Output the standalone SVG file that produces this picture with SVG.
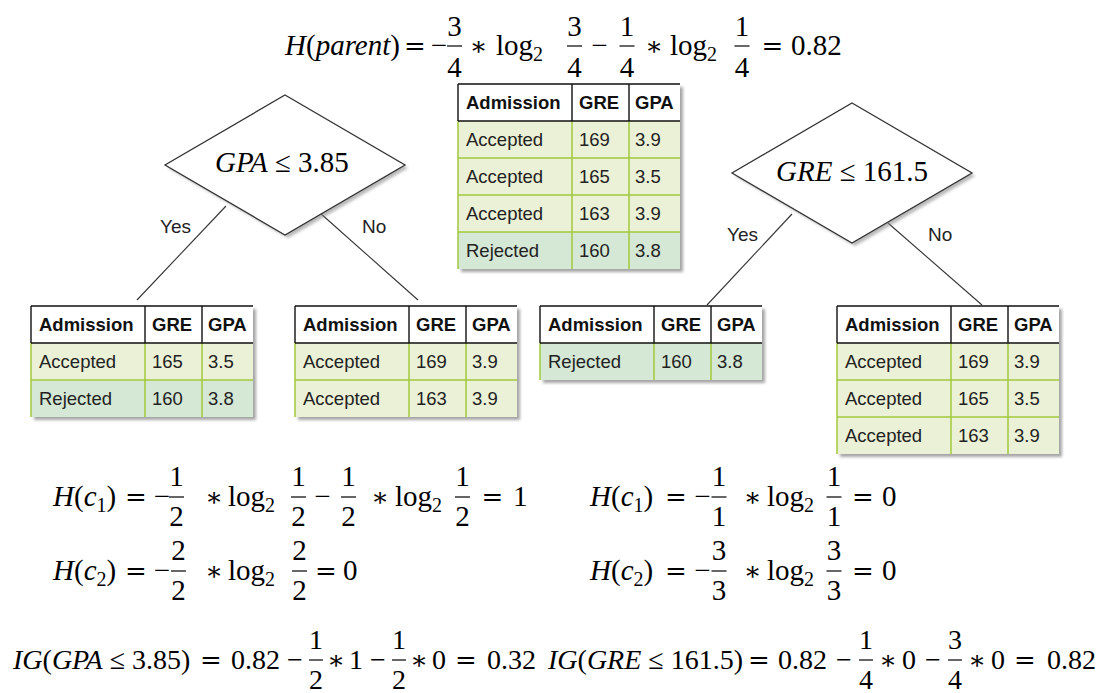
<svg xmlns="http://www.w3.org/2000/svg" width="1105" height="693" viewBox="0 0 1105 693">
<defs>
<filter id="blur" x="-10%" y="-10%" width="120%" height="120%"><feGaussianBlur stdDeviation="1.6"/></filter>
</defs>
<style>
.m{font-family:"Liberation Serif","Times New Roman",serif;font-size:29px;fill:#000}
.ig{font-size:28px}
.i{font-style:italic}
.op{font-family:"DejaVu Serif",serif;font-size:26px}
.sub{font-size:20px}
.c{text-anchor:middle}
.bar{stroke:#000;stroke-width:1.2}
.sh{fill:#777;opacity:.65;filter:url(#blur)}
.hdr{fill:#fff}
.acc{fill:#ebf1d6}
.rej{fill:#d5e8d5}
.gl{stroke:#a2c93c;stroke-width:1.5;fill:none}
.bl{stroke:#111;stroke-width:1.4;fill:none}
.th{font-family:"Liberation Sans",Arial,sans-serif;font-size:18.5px;font-weight:bold;fill:#111}
.td{font-family:"Liberation Sans",Arial,sans-serif;font-size:18.5px;fill:#222}
.lbl{font-family:"Liberation Sans",Arial,sans-serif;font-size:19px;fill:#222}
.dia{fill:#fff;stroke:#333;stroke-width:1.3}
.dsh{fill:#888;opacity:.6;filter:url(#blur)}
.conn{stroke:#333;stroke-width:1.1;fill:none}
</style>

<!-- top equation -->
<g id="eq-parent" class="m">
<text x="285" y="55"><tspan class="i">H</tspan>(<tspan class="i">parent</tspan>)</text>
<text class="op c" x="415" y="55">=</text>
<text class="c" x="439" y="55">−</text>
<text class="c" x="454.5" y="36">3</text><line class="bar" x1="447" y1="46" x2="462" y2="46"/><text class="c" x="454.5" y="77">4</text>
<text class="op c" x="478.5" y="55">∗</text>
<text x="496" y="55">log<tspan class="sub" dy="6">2</tspan></text>
<text class="c" x="574.5" y="36">3</text><line class="bar" x1="567" y1="46" x2="582" y2="46"/><text class="c" x="574.5" y="77">4</text>
<text class="c" x="599.5" y="55">−</text>
<text class="c" x="627" y="36">1</text><line class="bar" x1="619.5" y1="46" x2="634.5" y2="46"/><text class="c" x="627" y="77">4</text>
<text class="op c" x="654" y="55">∗</text>
<text x="670" y="55">log<tspan class="sub" dy="6">2</tspan></text>
<text class="c" x="742" y="36">1</text><line class="bar" x1="734.5" y1="46" x2="749.5" y2="46"/><text class="c" x="742" y="77">4</text>
<text class="op c" x="772.5" y="55">=</text>
<text x="791" y="55">0.82</text>
</g>

<!-- connectors -->
<g id="connectors">
<line class="conn" x1="226" y1="206" x2="137" y2="300"/>
<line class="conn" x1="320" y1="213" x2="418" y2="300"/>
<line class="conn" x1="792" y1="214" x2="707" y2="305"/>
<line class="conn" x1="888" y1="223" x2="982" y2="305"/>
<text class="lbl" x="160" y="233">Yes</text>
<text class="lbl" x="362" y="233">No</text>
<text class="lbl" x="727" y="241">Yes</text>
<text class="lbl" x="928" y="241">No</text>
</g>

<!-- decision nodes -->
<g id="node-gpa">
<polygon class="dsh" points="288,98 408,168 288,238 168,168"/>
<polygon class="dia" points="285,95 405,165 285,235 165,165"/>
<text class="m" x="215" y="172"><tspan class="i">GPA</tspan> ≤ 3.85</text>
</g>
<g id="node-gre">
<polygon class="dsh" points="855,106 975,176 855,246 735,176"/>
<polygon class="dia" points="852,103 972,173 852,243 732,173"/>
<text class="m" x="776" y="181"><tspan class="i">GRE</tspan> ≤ 161.5</text>
</g>

<!-- root table -->
<g id="table-root" transform="translate(458,84)">
<rect class="sh" x="3" y="3" width="222" height="185"/>
<rect class="hdr" width="222" height="37"/>
<rect class="acc" y="37" width="222" height="111"/>
<rect class="rej" y="148" width="222" height="37"/>
<path class="gl" d="M0,37V185M114,37V185M171,37V185M0,74H222M0,111H222M0,148H222"/>
<path class="bl" d="M0,0H222M0,37H222M0,0V37M114,0V37M171,0V37"/>
<text class="th" x="8" y="25">Admission</text><text class="th" x="121" y="25">GRE</text><text class="th" x="177" y="25">GPA</text>
<text class="td" x="8" y="62">Accepted</text><text class="td" x="121" y="62">169</text><text class="td" x="177" y="62">3.9</text>
<text class="td" x="8" y="99">Accepted</text><text class="td" x="121" y="99">165</text><text class="td" x="177" y="99">3.5</text>
<text class="td" x="8" y="136">Accepted</text><text class="td" x="121" y="136">163</text><text class="td" x="177" y="136">3.9</text>
<text class="td" x="8" y="173">Rejected</text><text class="td" x="121" y="173">160</text><text class="td" x="177" y="173">3.8</text>
</g>

<g id="table-gpa-yes" transform="translate(31,306)">
<rect class="sh" x="3" y="3" width="222" height="111"/>
<rect class="hdr" width="222" height="37"/>
<rect class="acc" y="37" width="222" height="37"/>
<rect class="rej" y="74" width="222" height="37"/>
<path class="gl" d="M0,37V111M114,37V111M171,37V111M0,74H222"/>
<path class="bl" d="M0,0H222M0,37H222M0,0V37M114,0V37M171,0V37"/>
<text class="th" x="8" y="25">Admission</text><text class="th" x="121" y="25">GRE</text><text class="th" x="177" y="25">GPA</text>
<text class="td" x="8" y="62">Accepted</text><text class="td" x="121" y="62">165</text><text class="td" x="177" y="62">3.5</text>
<text class="td" x="8" y="99">Rejected</text><text class="td" x="121" y="99">160</text><text class="td" x="177" y="99">3.8</text>
</g>

<g id="table-gpa-no" transform="translate(295,306)">
<rect class="sh" x="3" y="3" width="222" height="111"/>
<rect class="hdr" width="222" height="37"/>
<rect class="acc" y="37" width="222" height="74"/>
<path class="gl" d="M0,37V111M114,37V111M171,37V111M0,74H222"/>
<path class="bl" d="M0,0H222M0,37H222M0,0V37M114,0V37M171,0V37"/>
<text class="th" x="8" y="25">Admission</text><text class="th" x="121" y="25">GRE</text><text class="th" x="177" y="25">GPA</text>
<text class="td" x="8" y="62">Accepted</text><text class="td" x="121" y="62">169</text><text class="td" x="177" y="62">3.9</text>
<text class="td" x="8" y="99">Accepted</text><text class="td" x="121" y="99">163</text><text class="td" x="177" y="99">3.9</text>
</g>

<g id="table-gre-yes" transform="translate(540,306)">
<rect class="sh" x="3" y="3" width="222" height="74"/>
<rect class="hdr" width="222" height="37"/>
<rect class="rej" y="37" width="222" height="37"/>
<path class="gl" d="M0,37V74M114,37V74M171,37V74"/>
<path class="bl" d="M0,0H222M0,37H222M0,0V37M114,0V37M171,0V37"/>
<text class="th" x="8" y="25">Admission</text><text class="th" x="121" y="25">GRE</text><text class="th" x="177" y="25">GPA</text>
<text class="td" x="8" y="62">Rejected</text><text class="td" x="121" y="62">160</text><text class="td" x="177" y="62">3.8</text>
</g>

<g id="table-gre-no" transform="translate(837,306)">
<rect class="sh" x="3" y="3" width="222" height="148"/>
<rect class="hdr" width="222" height="37"/>
<rect class="acc" y="37" width="222" height="111"/>
<path class="gl" d="M0,37V148M114,37V148M171,37V148M0,74H222M0,111H222"/>
<path class="bl" d="M0,0H222M0,37H222M0,0V37M114,0V37M171,0V37"/>
<text class="th" x="8" y="25">Admission</text><text class="th" x="121" y="25">GRE</text><text class="th" x="177" y="25">GPA</text>
<text class="td" x="8" y="62">Accepted</text><text class="td" x="121" y="62">169</text><text class="td" x="177" y="62">3.9</text>
<text class="td" x="8" y="99">Accepted</text><text class="td" x="121" y="99">165</text><text class="td" x="177" y="99">3.5</text>
<text class="td" x="8" y="136">Accepted</text><text class="td" x="121" y="136">163</text><text class="td" x="177" y="136">3.9</text>
</g>

<!-- left entropies -->
<g id="eq-left" class="m">
<text x="53" y="506"><tspan class="i">H</tspan>(<tspan class="i">c</tspan><tspan class="sub" dy="6">1</tspan><tspan dy="-6">)</tspan></text>
<text class="op c" x="136" y="506">=</text>
<text class="c" x="162" y="506">−</text>
<text class="c" x="176.5" y="486">1</text><line class="bar" x1="169" y1="497" x2="184" y2="497"/><text class="c" x="176.5" y="526">2</text>
<text class="op c" x="214" y="506">∗</text>
<text x="228" y="506">log<tspan class="sub" dy="6">2</tspan></text>
<text class="c" x="298.5" y="486">1</text><line class="bar" x1="291" y1="497" x2="306" y2="497"/><text class="c" x="298.5" y="526">2</text>
<text class="c" x="322.5" y="506">−</text>
<text class="c" x="348.5" y="486">1</text><line class="bar" x1="341" y1="497" x2="356" y2="497"/><text class="c" x="348.5" y="526">2</text>
<text class="op c" x="380" y="506">∗</text>
<text x="395" y="506">log<tspan class="sub" dy="6">2</tspan></text>
<text class="c" x="462.5" y="486">1</text><line class="bar" x1="455" y1="497" x2="470" y2="497"/><text class="c" x="462.5" y="526">2</text>
<text class="op c" x="492.5" y="506">=</text>
<text x="513" y="506">1</text>

<text x="53" y="580"><tspan class="i">H</tspan>(<tspan class="i">c</tspan><tspan class="sub" dy="6">2</tspan><tspan dy="-6">)</tspan></text>
<text class="op c" x="136" y="580">=</text>
<text class="c" x="162" y="580">−</text>
<text class="c" x="178.5" y="560">2</text><line class="bar" x1="171" y1="571" x2="186" y2="571"/><text class="c" x="178.5" y="600">2</text>
<text class="op c" x="214" y="580">∗</text>
<text x="228" y="580">log<tspan class="sub" dy="6">2</tspan></text>
<text class="c" x="299.5" y="560">2</text><line class="bar" x1="292" y1="571" x2="307" y2="571"/><text class="c" x="299.5" y="600">2</text>
<text class="op c" x="326" y="580">=</text>
<text x="343" y="580">0</text>
</g>

<!-- right entropies -->
<g id="eq-right" class="m">
<text x="590" y="506"><tspan class="i">H</tspan>(<tspan class="i">c</tspan><tspan class="sub" dy="6">1</tspan><tspan dy="-6">)</tspan></text>
<text class="op c" x="676" y="506">=</text>
<text class="c" x="702.5" y="506">−</text>
<text class="c" x="719" y="486">1</text><line class="bar" x1="711.5" y1="497" x2="726.5" y2="497"/><text class="c" x="719" y="526">1</text>
<text class="op c" x="752.5" y="506">∗</text>
<text x="767" y="506">log<tspan class="sub" dy="6">2</tspan></text>
<text class="c" x="834" y="486">1</text><line class="bar" x1="826.5" y1="497" x2="841.5" y2="497"/><text class="c" x="834" y="526">1</text>
<text class="op c" x="863" y="506">=</text>
<text x="882" y="506">0</text>

<text x="590" y="580"><tspan class="i">H</tspan>(<tspan class="i">c</tspan><tspan class="sub" dy="6">2</tspan><tspan dy="-6">)</tspan></text>
<text class="op c" x="676" y="580">=</text>
<text class="c" x="702.5" y="580">−</text>
<text class="c" x="719" y="560">3</text><line class="bar" x1="711.5" y1="571" x2="726.5" y2="571"/><text class="c" x="719" y="600">3</text>
<text class="op c" x="752.5" y="580">∗</text>
<text x="767" y="580">log<tspan class="sub" dy="6">2</tspan></text>
<text class="c" x="834" y="560">3</text><line class="bar" x1="826.5" y1="571" x2="841.5" y2="571"/><text class="c" x="834" y="600">3</text>
<text class="op c" x="863" y="580">=</text>
<text x="882" y="580">0</text>
</g>

<!-- information gain -->
<g id="eq-ig" class="m ig">
<text x="13" y="669"><tspan class="i">IG</tspan>(<tspan class="i">GPA</tspan> ≤ 3.85)</text>
<text class="op c" x="211" y="669">=</text>
<text x="231" y="669">0.82</text>
<text class="c" x="295" y="669">−</text>
<text class="c" x="316" y="649">1</text><line class="bar" x1="309" y1="660" x2="323" y2="660"/><text class="c" x="316" y="689">2</text>
<text class="op c" x="336" y="669">∗</text>
<text x="349" y="669">1</text>
<text class="c" x="378" y="669">−</text>
<text class="c" x="399" y="649">1</text><line class="bar" x1="392" y1="660" x2="406" y2="660"/><text class="c" x="399" y="689">2</text>
<text class="op c" x="419" y="669">∗</text>
<text x="432" y="669">0</text>
<text class="op c" x="466" y="669">=</text>
<text x="487" y="669">0.32</text>

<text x="548" y="669"><tspan class="i">IG</tspan>(<tspan class="i">GRE</tspan> ≤ 161.5)</text>
<text class="op c" x="759" y="669">=</text>
<text x="778" y="669">0.82</text>
<text class="c" x="844" y="669">−</text>
<text class="c" x="866" y="649">1</text><line class="bar" x1="859" y1="660" x2="873" y2="660"/><text class="c" x="866" y="689">4</text>
<text class="op c" x="888" y="669">∗</text>
<text x="902" y="669">0</text>
<text class="c" x="933" y="669">−</text>
<text class="c" x="955" y="649">3</text><line class="bar" x1="948" y1="660" x2="962" y2="660"/><text class="c" x="955" y="689">4</text>
<text class="op c" x="977" y="669">∗</text>
<text x="991" y="669">0</text>
<text class="op c" x="1025" y="669">=</text>
<text x="1047" y="669">0.82</text>
</g>
</svg>
